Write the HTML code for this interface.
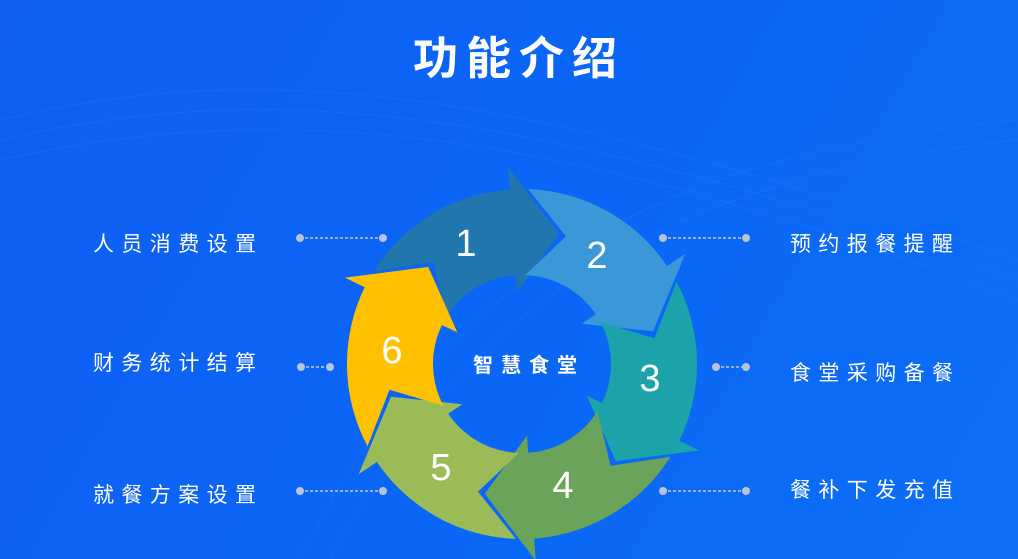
<!DOCTYPE html>
<html><head><meta charset="utf-8">
<style>
html,body{margin:0;padding:0}
body{width:1018px;height:559px;overflow:hidden;position:relative;
background:linear-gradient(120deg,#0f5ff4 0%,#0a66f6 50%,#0c6ef6 100%);
font-family:"Liberation Sans","Noto Sans CJK SC",sans-serif;color:#fff}
.t{position:absolute;white-space:nowrap}
.title{left:0;width:1038px;text-align:center;top:22px;font-size:45px;font-weight:bold;letter-spacing:8px;font-family:"Noto Sans CJK SC",sans-serif}
.lab{font-size:21px;letter-spacing:7.4px;font-family:"Noto Sans CJK SC",sans-serif;line-height:24px}
</style></head><body>
<svg width="1018" height="559" style="position:absolute;left:0;top:0">
<g fill="none" stroke="#3f86f8" stroke-width="1" opacity="0.18">
<path d="M0 120 C250 60 500 80 1018 260"/>
<path d="M0 140 C260 80 520 100 1018 280"/>
<path d="M0 160 C270 100 540 120 1018 300"/>
<path d="M300 559 C450 250 700 150 1018 120"/>
<path d="M330 559 C480 270 720 170 1018 140"/>
</g>
<g id="ring"></g>
<g stroke="#c0c8dc" stroke-width="1.5" stroke-dasharray="3,2" fill="#b8c2da">
<line x1="300" y1="238" x2="383" y2="238"/><circle cx="300" cy="238" r="4" stroke="none"/><circle cx="383" cy="238" r="4" stroke="none"/>
<line x1="301" y1="367" x2="330" y2="367"/><circle cx="301" cy="367" r="4" stroke="none"/><circle cx="330" cy="367" r="4" stroke="none"/>
<line x1="300" y1="491" x2="383" y2="491"/><circle cx="300" cy="491" r="4" stroke="none"/><circle cx="383" cy="491" r="4" stroke="none"/>
<line x1="663" y1="238" x2="746" y2="238"/><circle cx="663" cy="238" r="4" stroke="none"/><circle cx="746" cy="238" r="4" stroke="none"/>
<line x1="716" y1="367" x2="746" y2="367"/><circle cx="716" cy="367" r="4" stroke="none"/><circle cx="746" cy="367" r="4" stroke="none"/>
<line x1="663" y1="491" x2="746" y2="491"/><circle cx="663" cy="491" r="4" stroke="none"/><circle cx="746" cy="491" r="4" stroke="none"/>
</g>
<g fill="#fff" font-family="Liberation Sans, sans-serif" font-size="38" text-anchor="middle">
<text x="466" y="256">1</text><text x="597" y="268">2</text><text x="650" y="391">3</text>
<text x="563" y="498">4</text><text x="441" y="480">5</text><text x="392" y="363">6</text>
</g>
</svg>
<script>
(function(){
var cx=522,cy=364,R=175,r=89,Rb=197,rb=72,rm=135;
var cols=["#2176ae","#3a97d8","#1ca3aa","#6aa35a","#9bbb59","#ffc000"];
function p(a,rad){var t=a*Math.PI/180;return (cx+rad*Math.cos(t)).toFixed(1)+" "+(cy+rad*Math.sin(t)).toFixed(1);}
var s="";
for(var k=0;k<6;k++){
 var T=-148+60*k, H=T+54, tip=H+20;
 var dd="M"+p(T,R)+" A"+R+" "+R+" 0 0 1 "+p(H,R)+" L"+p(H,Rb)+" L"+p(tip,rm)+" L"+p(H,rb)+" L"+p(H,r)+
 " A"+r+" "+r+" 0 0 0 "+p(T,r)+" L"+p(T+17,rm)+" Z";
 s+='<path fill="'+cols[k]+'" d="'+dd+'"/>';
}
document.getElementById("ring").innerHTML=s;
})();
</script>
<div class="t title">功能介绍</div>
<div class="t lab" style="left:93px;top:231px">人员消费设置</div>
<div class="t lab" style="left:93px;top:350px">财务统计结算</div>
<div class="t lab" style="left:93px;top:482px">就餐方案设置</div>
<div class="t lab" style="left:790px;top:231px">预约报餐提醒</div>
<div class="t lab" style="left:790px;top:360px">食堂采购备餐</div>
<div class="t lab" style="left:790px;top:477px">餐补下发充值</div>
<div class="t" style="left:473px;top:349px;font-size:20px;letter-spacing:8px;font-weight:bold;font-family:'Noto Sans CJK SC',sans-serif">智慧食堂</div>
</body></html>
